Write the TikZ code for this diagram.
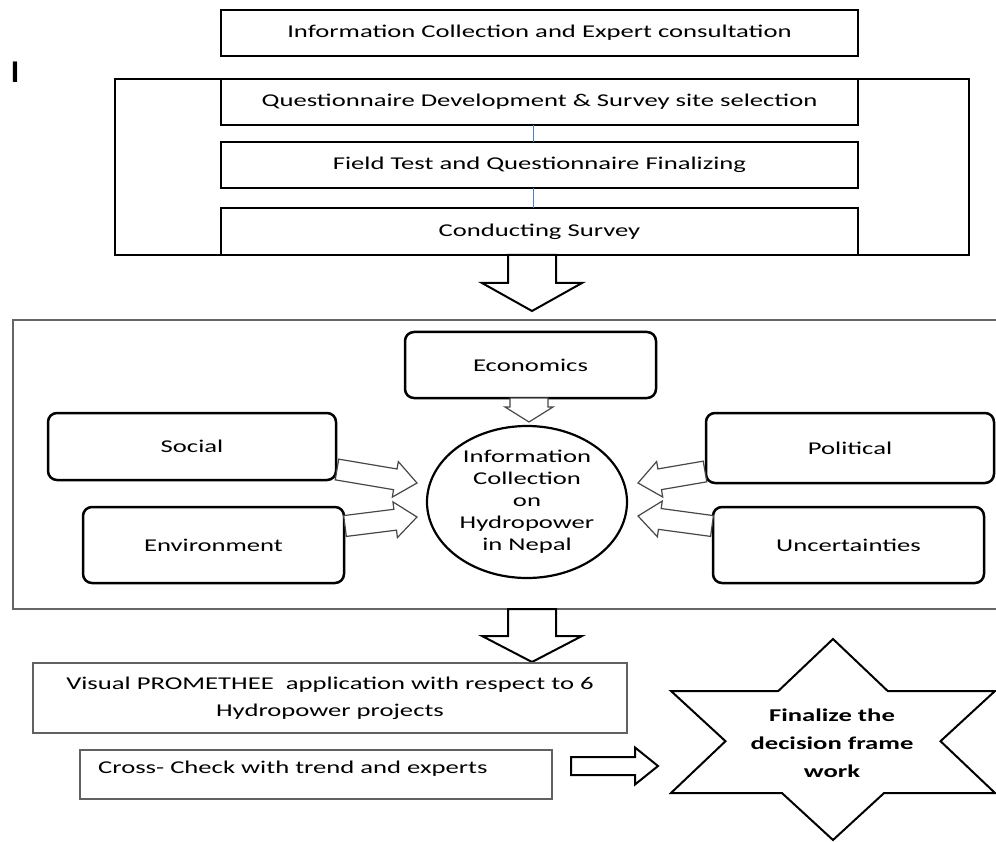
\documentclass[tikz,border=0pt]{standalone}
\usepackage{fontspec}
\setmainfont{Carlito}[FakeStretch=1.48]
\usetikzlibrary{calc,shapes.geometric}

\definecolor{linkblue}{RGB}{79,129,189}

% Hollow block arrow: [style]{start}{tip}{shaft half width}{head half width}{head length}
\newcommand\fatarrow[6][]{%
  \coordinate (fa-h) at ($(#3)!#6!(#2)$);
  \draw[#1] ($(#2)!#4!90:(#3)$) -- ($(fa-h)!#4!90:(#3)$) -- ($(fa-h)!#5!90:(#3)$)
    -- (#3) -- ($(fa-h)!#5!-90:(#3)$) -- ($(fa-h)!#4!-90:(#3)$)
    -- ($(#2)!#4!-90:(#3)$) -- cycle;
}

\tikzset{
  txt/.style={font=\fontsize{18}{22}\selectfont, text=black},
  stagebox/.style={draw=black, line width=2.8pt, fill=white, minimum width=637pt,
    minimum height=46pt, inner sep=0pt, txt},
  factor/.style={draw=black, line width=2.5pt, rounded corners=9pt, fill=white,
    inner sep=0pt, txt},
  hub/.style={ellipse, draw=black, line width=2.2pt, fill=white, minimum width=200pt,
    minimum height=152pt, inner sep=0pt, align=center, txt},
  plainbox/.style={draw=black!62, line width=1.5pt, fill=white, inner sep=0pt, txt},
  bigarrow/.style={draw=black, line width=2pt, fill=white, line join=miter},
  thinarrow/.style={draw=black!72, line width=1.2pt, fill=white, line join=miter},
  linkline/.style={draw=linkblue, line width=1pt},
  framebox/.style={draw=black!60, line width=1.6pt},
}

\begin{document}
\begin{tikzpicture}[x=1pt, y=-1pt]
\clip (0,0) rectangle (996,842);
\fill[white] (0,0) rectangle (996,842);

% stray mark at the left margin
\node[font=\fontsize{32}{32}\selectfont, inner sep=0pt] (mark) at (15,72) {I};

% ---- survey stage ----
\node[stagebox] (info) at (539.5,33) {Information Collection and Expert consultation};
\draw[black, line width=2.8pt] (115,79) rectangle (969,255);
\node[stagebox] (qdev) at (539.5,102) {Questionnaire Development \& Survey site selection};
\node[stagebox] (field) at (539.5,165) {Field Test and Questionnaire Finalizing};
\node[stagebox, minimum height=47pt] (survey) at (539.5,231.5) {Conducting Survey};
\draw[linkline] (533,125) -- (533,142);
\draw[linkline] (533,188) -- (533,208);

\coordinate (a1s) at (532,255);
\coordinate (a1t) at (532,311);
\fatarrow[bigarrow]{a1s}{a1t}{24pt}{50pt}{28pt}

% ---- criteria stage ----
\draw[framebox] (13,320) rectangle (1002,609);
\node[factor, minimum width=251pt, minimum height=66pt] (econ) at (530.5,365) {Economics};
\node[factor, minimum width=288pt, minimum height=67pt] (social) at (192,446.5) {Social};
\node[factor, minimum width=261pt, minimum height=76pt] (env) at (213.5,545) {Environment};
\node[factor, minimum width=288pt, minimum height=70pt] (pol) at (850,448) {Political};
\node[factor, minimum width=271pt, minimum height=76pt] (unc) at (848.5,545) {Uncertainties};
\node[hub] (hub) at (527,502) {Information\\Collection\\on\\Hydropower\\in Nepal};

\coordinate (ecs) at (529,398);
\coordinate (ect) at (529,422);
\fatarrow[thinarrow]{ecs}{ect}{19pt}{24pt}{15pt}
\coordinate (sos) at (337,469.5);
\coordinate (sot) at (417,483);
\fatarrow[thinarrow]{sos}{sot}{10.5pt}{18pt}{22pt}
\coordinate (ens) at (345,526);
\coordinate (ent) at (417,517);
\fatarrow[thinarrow]{ens}{ent}{10.5pt}{18pt}{22pt}
\coordinate (pos) at (705,471.5);
\coordinate (pot) at (638,483);
\fatarrow[thinarrow]{pos}{pot}{10.5pt}{18pt}{22pt}
\coordinate (uns) at (712,526);
\coordinate (unt) at (638,516);
\fatarrow[thinarrow]{uns}{unt}{10.5pt}{18pt}{22pt}

\coordinate (a2s) at (532,609);
\coordinate (a2t) at (532,662);
\fatarrow[bigarrow]{a2s}{a2t}{24pt}{50pt}{26pt}

% ---- evaluation stage ----
\node[plainbox, minimum width=594pt, minimum height=70pt, align=center,
  font=\fontsize{18}{27}\selectfont] (prom) at (330,698)
  {Visual PROMETHEE\ \ application with respect to 6\\Hydropower projects};
\node[plainbox, minimum width=472pt, minimum height=49pt] (cross) at (316,774.5) {};
\node[txt, anchor=west, inner sep=0pt] (crosstxt) at (98,769) {Cross- Check with trend and experts};

% six-pointed star
\draw[black, line width=2pt, fill=white, line join=miter]
  (833,639) -- (887.7,691) -- (995,691) -- (940.5,741.2) -- (995,793) -- (884.1,793)
  -- (833,840) -- (781.9,793) -- (671,793) -- (725.5,741.2) -- (671,691) -- (778.3,691)
  -- cycle;
\node[align=center, inner sep=0pt, font=\fontsize{18}{28}\selectfont\bfseries] (star)
  at (832,743) {Finalize the\\decision frame\\work};

\coordinate (a3s) at (571,766);
\coordinate (a3t) at (658,766);
\fatarrow[bigarrow]{a3s}{a3t}{9pt}{18.5pt}{23pt}
\end{tikzpicture}
\end{document}
